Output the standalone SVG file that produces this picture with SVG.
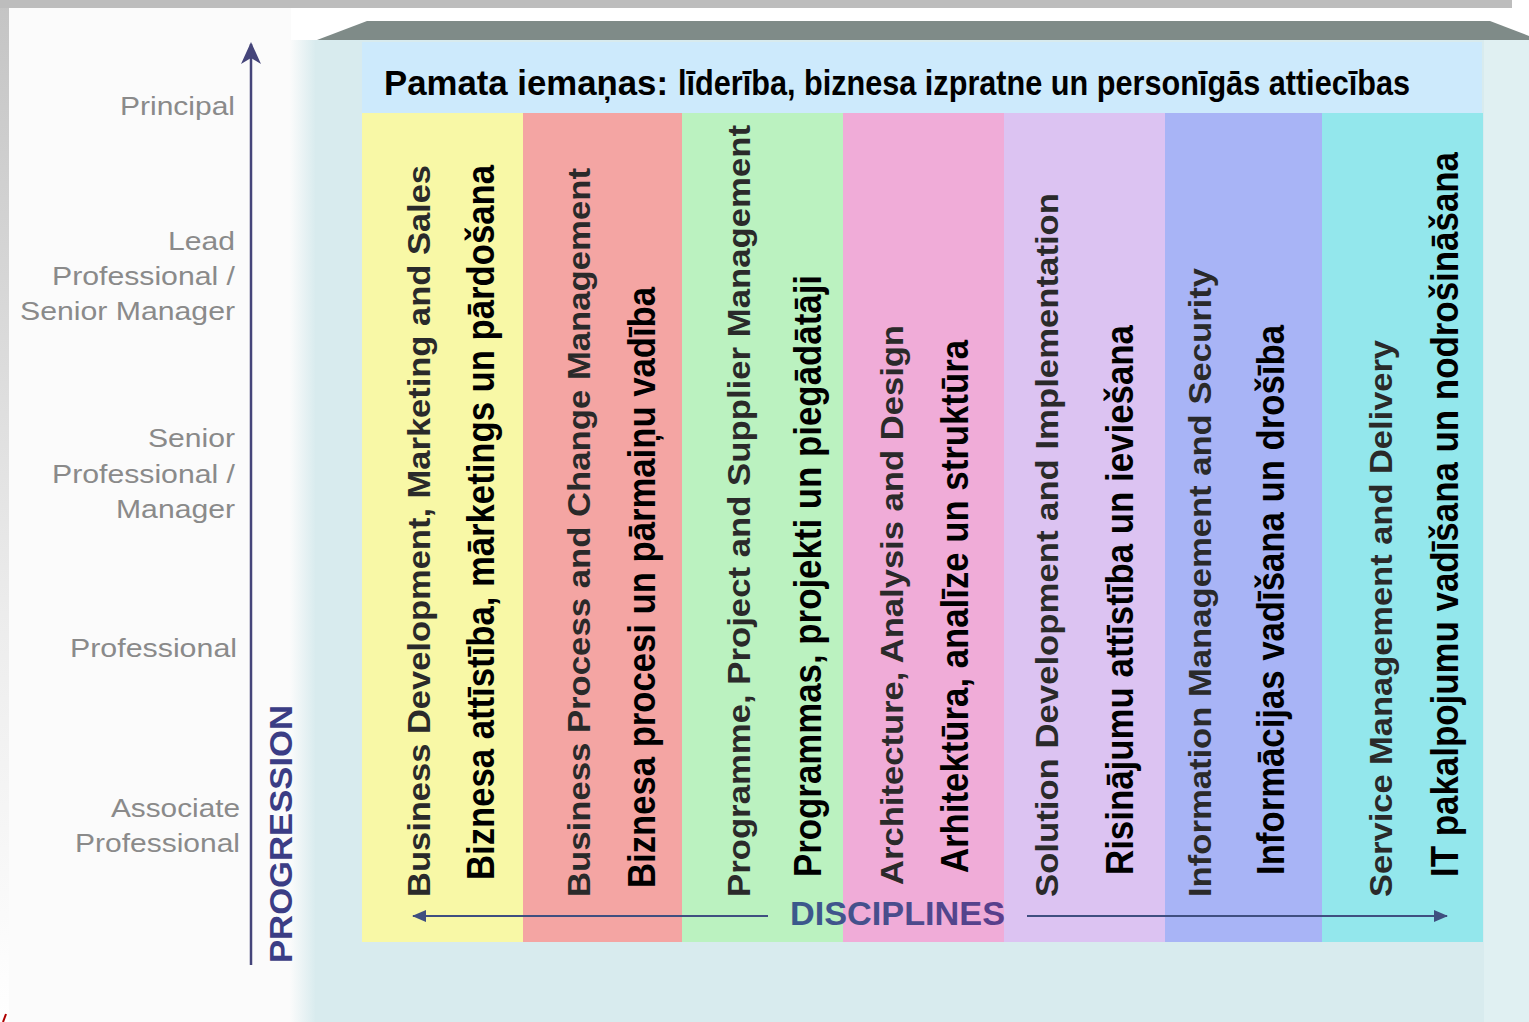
<svg xmlns="http://www.w3.org/2000/svg" width="1529" height="1022" viewBox="0 0 1529 1022">
<defs>
<style>
.lvl{font-family:"Liberation Sans",Arial,sans-serif;font-size:26px;fill:#8a8a8a;text-anchor:end}
.en{font-family:"Liberation Sans",Arial,sans-serif;font-size:32px;font-weight:bold;fill:#2a2a2a}
.lv{font-family:"Liberation Sans Narrow","Liberation Sans",Arial,sans-serif;font-size:38px;font-weight:bold;fill:#000}
.hd{font-family:"Liberation Sans",Arial,sans-serif;font-weight:bold;fill:#000}
.ax{stroke:#45457a;stroke-width:2.5;fill:none}
.dax{stroke:#3f4f80;stroke-width:2;fill:none}
</style>
<linearGradient id="leftStrip" x1="0" y1="0" x2="0" y2="1">
<stop offset="0" stop-color="#c4c4c4"/><stop offset="0.6" stop-color="#ececec"/><stop offset="1" stop-color="#ffffff"/>
</linearGradient>
<linearGradient id="edgeFade" x1="0" y1="0" x2="1" y2="0">
<stop offset="0" stop-color="#fbfbfb"/><stop offset="1" stop-color="#d8ebee"/>
</linearGradient>
<linearGradient id="discGrad" x1="0" y1="0" x2="1" y2="0">
<stop offset="0" stop-color="#3a5a8c"/><stop offset="1" stop-color="#5a3e8c"/>
</linearGradient>
<marker id="arrUp" viewBox="0 0 22 20" refX="20" refY="10" markerWidth="22" markerHeight="20" markerUnits="userSpaceOnUse" orient="auto">
<path d="M22,10 L0,0 L6,10 L0,20 Z" fill="#45457a"/>
</marker>
<marker id="arrH" viewBox="0 0 14 12" refX="13" refY="6" markerWidth="14" markerHeight="12" markerUnits="userSpaceOnUse" orient="auto">
<path d="M0,0 L14,6 L0,12 Z" fill="#3f4f80"/>
</marker>
</defs>

<rect x="0" y="0" width="1529" height="1022" fill="#ffffff"/>
<rect x="9" y="8" width="282" height="1014" fill="#fbfbfb"/>
<rect x="0" y="0" width="9" height="1022" fill="url(#leftStrip)"/>
<rect x="0" y="0" width="1512" height="8" fill="#bdbdbd"/>

<g id="box">
<rect x="290" y="40" width="26" height="982" fill="url(#edgeFade)"/>
<rect x="315" y="40" width="1214" height="982" fill="#d8ebee"/>
<rect x="1484" y="40" width="45" height="982" fill="#e0f0f2"/>
<polygon points="317,40 367,21 1490,21 1529,36 1529,40" fill="#7f8b88"/>
</g>

<g id="header">
<rect x="362" y="42" width="1120" height="71" fill="#cdeafc"/>
<text class="hd" x="384" y="95" font-size="35" textLength="284" lengthAdjust="spacingAndGlyphs">Pamata iemaņas:</text>
<text class="hd" x="678" y="95" font-size="35" textLength="732" lengthAdjust="spacingAndGlyphs">līderība, biznesa izpratne un personīgās attiecības</text>
</g>

<g id="col1">
<rect x="362" y="113" width="161" height="829" fill="#f8f8a6"/>
<text class="en" transform="translate(430,897) rotate(-90)" textLength="732" lengthAdjust="spacingAndGlyphs">Business Development, Marketing and Sales</text>
<text class="lv" transform="translate(494,880) rotate(-90)" textLength="715" lengthAdjust="spacingAndGlyphs">Biznesa attīstība, mārketings un pārdošana</text>
</g>
<g id="col2">
<rect x="523" y="113" width="159" height="829" fill="#f4a5a3"/>
<text class="en" transform="translate(590,897) rotate(-90)" textLength="729" lengthAdjust="spacingAndGlyphs">Business Process and Change Management</text>
<text class="lv" transform="translate(655,888) rotate(-90)" textLength="601" lengthAdjust="spacingAndGlyphs">Biznesa procesi un pārmaiņu vadība</text>
</g>
<g id="col3">
<rect x="682" y="113" width="161" height="829" fill="#bbf2c0"/>
<text class="en" transform="translate(750,897) rotate(-90)" textLength="772" lengthAdjust="spacingAndGlyphs">Programme, Project and Supplier Management</text>
<text class="lv" transform="translate(821,877) rotate(-90)" textLength="602" lengthAdjust="spacingAndGlyphs">Programmas, projekti un piegādātāji</text>
</g>
<g id="col4">
<rect x="843" y="113" width="161" height="829" fill="#f0acd8"/>
<text class="en" transform="translate(903,885) rotate(-90)" textLength="560" lengthAdjust="spacingAndGlyphs">Architecture, Analysis and Design</text>
<text class="lv" transform="translate(968,873) rotate(-90)" textLength="533" lengthAdjust="spacingAndGlyphs">Arhitektūra, analīze un struktūra</text>
</g>
<g id="col5">
<rect x="1004" y="113" width="161" height="829" fill="#dcc3f2"/>
<text class="en" transform="translate(1058,897) rotate(-90)" textLength="704" lengthAdjust="spacingAndGlyphs">Solution Development and Implementation</text>
<text class="lv" transform="translate(1133,875) rotate(-90)" textLength="550" lengthAdjust="spacingAndGlyphs">Risinājumu attīstība un ieviešana</text>
</g>
<g id="col6">
<rect x="1165" y="113" width="157" height="829" fill="#a8b4f6"/>
<text class="en" transform="translate(1211,897) rotate(-90)" textLength="629" lengthAdjust="spacingAndGlyphs">Information Management and Security</text>
<text class="lv" transform="translate(1284,875) rotate(-90)" textLength="550" lengthAdjust="spacingAndGlyphs">Informācijas vadīšana un drošība</text>
</g>
<g id="col7">
<rect x="1322" y="113" width="161" height="829" fill="#93e7ec"/>
<text class="en" transform="translate(1392,897) rotate(-90)" textLength="557" lengthAdjust="spacingAndGlyphs">Service Management and Delivery</text>
<text class="lv" transform="translate(1458,877) rotate(-90)" textLength="725" lengthAdjust="spacingAndGlyphs">IT pakalpojumu vadīšana un nodrošināšana</text>
</g>

<g id="levels">
<text class="lvl" x="235" y="115" textLength="115" lengthAdjust="spacingAndGlyphs">Principal</text>
<text class="lvl" x="235" y="250" textLength="67" lengthAdjust="spacingAndGlyphs">Lead</text>
<text class="lvl" x="235" y="285" textLength="183" lengthAdjust="spacingAndGlyphs">Professional /</text>
<text class="lvl" x="235" y="320" textLength="215" lengthAdjust="spacingAndGlyphs">Senior Manager</text>
<text class="lvl" x="235" y="447" textLength="87" lengthAdjust="spacingAndGlyphs">Senior</text>
<text class="lvl" x="235" y="483" textLength="183" lengthAdjust="spacingAndGlyphs">Professional /</text>
<text class="lvl" x="235" y="518" textLength="119" lengthAdjust="spacingAndGlyphs">Manager</text>
<text class="lvl" x="237" y="657" textLength="167" lengthAdjust="spacingAndGlyphs">Professional</text>
<text class="lvl" x="240" y="817" textLength="129" lengthAdjust="spacingAndGlyphs">Associate</text>
<text class="lvl" x="240" y="852" textLength="165" lengthAdjust="spacingAndGlyphs">Professional</text>
</g>

<g id="connectors">
<line class="ax" x1="251" y1="965" x2="251" y2="44" marker-end="url(#arrUp)"/>
<line class="dax" x1="768" y1="916" x2="413" y2="916" marker-end="url(#arrH)"/>
<line class="dax" x1="1027" y1="916" x2="1447" y2="916" marker-end="url(#arrH)"/>
</g>

<g id="axis-labels">
<text transform="translate(292,963) rotate(-90)" font-family="Liberation Sans,Arial,sans-serif" font-size="31" font-weight="bold" fill="#3b3d85" textLength="258" lengthAdjust="spacingAndGlyphs">PROGRESSION</text>
<text x="790" y="925" font-family="Liberation Sans,Arial,sans-serif" font-size="33" font-weight="bold" fill="url(#discGrad)" textLength="215" lengthAdjust="spacingAndGlyphs">DISCIPLINES</text>
</g>

<line x1="3" y1="1022" x2="6" y2="1014" stroke="#b00000" stroke-width="2"/>
</svg>
